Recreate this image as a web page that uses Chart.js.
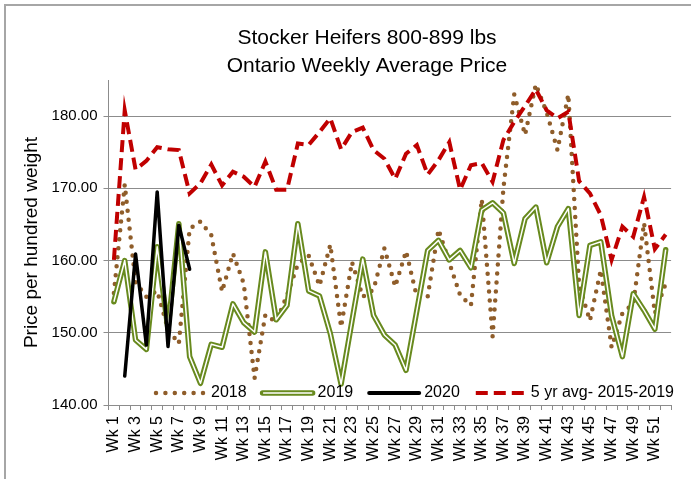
<!DOCTYPE html>
<html>
<head>
<meta charset="utf-8">
<script src="https://cdn.jsdelivr.net/npm/chart.js@4.4.1/dist/chart.umd.min.js"></script>
<style>
  body { margin: 0; background: #fff; }
  #wrap { width: 691px; height: 479px; }
</style>
</head>
<body>
<div id="wrap"><canvas id="heifers" width="691" height="479"></canvas></div>
<script>
// weekly prices, $ per cwt
var weeks = [];
for (var w = 1; w <= 52; w++) weeks.push("Wk " + w);

var price2018 = [155.5, 170.5, 157.0, 155.0, 155.8, 150.5, 148.5, 164.4, 165.4, 163.5,
                 155.7, 161.0, 156.8, 143.7, 152.5, 151.5, 155.2, 159.5, 160.7, 156.5,
                 162.2, 150.8, 159.8, 155.0, 156.0, 161.7, 156.4, 161.3, 155.0, 155.0,
                 164.3, 159.7, 155.2, 153.8, 168.5, 149.5, 170.0, 183.0, 177.4, 184.4,
                 180.5, 175.3, 183.0, 156.5, 151.7, 158.7, 148.0, 152.7, 154.0, 165.2,
                 152.7, 156.8];
var price2019 = [154.3, 160.0, 149.0, 147.7, 161.9, 150.5, 165.1, 146.7, 143.0, 148.4,
                 148.0, 154.0, 151.4, 150.1, 161.2, 151.8, 153.8, 165.1, 155.8, 155.1,
                 149.9, 142.9, 151.6, 160.2, 152.4, 149.7, 148.3, 144.8, 153.1, 161.4,
                 162.8, 160.1, 161.4, 159.0, 167.0, 168.0, 166.6, 159.6, 165.8, 167.4,
                 159.7, 164.7, 167.2, 152.4, 162.1, 162.6, 152.4, 146.7, 155.4, 153.1,
                 150.5, 161.5];
var price2020 = [null, 144.0, 160.9, 148.3, 169.5, 148.1, 164.9, 158.8];
var avg5yr = [160.1, 180.8, 172.6, 173.8, 175.7, 175.4, 175.3, 169.3, 170.7, 173.3,
              170.4, 172.3, 171.6, 170.2, 173.7, 169.8, 169.8, 176.2, 176.0, 177.8,
              179.7, 175.4, 177.8, 178.4, 175.3, 174.1, 171.3, 174.8, 176.0, 171.9,
              173.9, 176.4, 169.8, 173.2, 173.5, 170.9, 176.7, 179.2, 181.4, 183.7,
              180.8, 179.7, 180.6, 171.0, 169.3, 166.3, 160.1, 164.7, 163.3, 168.8,
              161.6, 163.6];
var titleLines = ["Stocker Heifers 800-899 lbs", "Ontario Weekly Average Price"];
var seriesNames = ["2018", "2019", "2020", "5 yr avg- 2015-2019"];

var FONT = "'Liberation Sans', Arial, sans-serif";
var BROWN = "#8f5d2a", GREEN = "#688a1e", RED = "#c00000", GRID = "#8c8c8c";

// outer frame + title
var framePlugin = {
  id: "frame",
  beforeDraw: function(chart) {
    var ctx = chart.ctx;
    ctx.save();
    ctx.strokeStyle = "#a6a6a6";
    ctx.lineWidth = 2;
    ctx.strokeRect(5, 5, 720, 520);
    ctx.restore();
  },
  afterDraw: function(chart) {
    var ctx = chart.ctx;
    ctx.save();
    ctx.fillStyle = "#000";
    ctx.font = "21px " + FONT;
    ctx.textAlign = "center";
    ctx.textBaseline = "middle";
    ctx.fillText(titleLines[0], 367, 38);
    ctx.fillText(titleLines[1], 367, 66);
    ctx.restore();
  }
};

// legend drawn inside the plot, along the bottom
var legendPlugin = {
  id: "innerLegend",
  afterDatasetsDraw: function(chart) {
    var ctx = chart.ctx;
    var y = 393, x = 156;
    ctx.save();
    ctx.font = "16px " + FONT;
    ctx.textBaseline = "middle";
    seriesNames.forEach(function(name, i) {
      ctx.setLineDash([]);
      ctx.lineCap = "butt";
      ctx.beginPath();
      if (i === 0) {
        ctx.strokeStyle = BROWN; ctx.lineWidth = 4.5; ctx.lineCap = "round";
        ctx.setLineDash([0, 9.4]);
        ctx.moveTo(x, y); ctx.lineTo(x + 50, y); ctx.stroke();
      } else if (i === 1) {
        ctx.lineCap = "round";
        ctx.strokeStyle = GREEN; ctx.lineWidth = 5.5;
        ctx.moveTo(x, y); ctx.lineTo(x + 50, y); ctx.stroke();
        ctx.beginPath();
        ctx.strokeStyle = "#fff"; ctx.lineWidth = 1.5;
        ctx.moveTo(x + 1, y); ctx.lineTo(x + 49, y); ctx.stroke();
      } else if (i === 2) {
        ctx.lineCap = "round";
        ctx.strokeStyle = "#000"; ctx.lineWidth = 4;
        ctx.moveTo(x, y); ctx.lineTo(x + 50, y); ctx.stroke();
      } else {
        ctx.strokeStyle = RED; ctx.lineWidth = 4;
        ctx.setLineDash([12, 6]);
        ctx.moveTo(x, y); ctx.lineTo(x + 52, y); ctx.stroke();
      }
      ctx.setLineDash([]);
      ctx.fillStyle = "#000";
      ctx.fillText(name, x + 55, y);
      x += 55 + ctx.measureText(name).width + 16;
    });
    ctx.restore();
  }
};

new Chart(document.getElementById("heifers"), {
  type: "line",
  data: {
    labels: weeks,
    datasets: [
      { label: seriesNames[3], data: avg5yr, borderColor: RED, borderWidth: 4,
        borderDash: [12, 6], order: 1 },
      { label: seriesNames[2], data: price2020, borderColor: "#000", borderWidth: 3.5,
        borderJoinStyle: "round", borderCapStyle: "round", order: 2 },
      { label: "2019 inner", data: price2019, borderColor: "#fff", borderWidth: 1.5,
        borderJoinStyle: "round", order: 3 },
      { label: seriesNames[1], data: price2019, borderColor: GREEN, borderWidth: 5.5,
        borderJoinStyle: "round", borderCapStyle: "round", order: 4 },
      { label: seriesNames[0], data: price2018, borderColor: BROWN, borderWidth: 4.5,
        borderDash: [0, 9], borderCapStyle: "round", order: 5 }
    ]
  },
  options: {
    responsive: false,
    animation: false,
    devicePixelRatio: 1,
    elements: { point: { radius: 0 }, line: { tension: 0, fill: false } },
    layout: { padding: { left: 16, top: 80, right: 11.7, bottom: 0 } },
    plugins: {
      legend: { display: false },
      title: { display: false },
      tooltip: { enabled: false }
    },
    scales: {
      x: {
        offset: true,
        grid: { display: true, drawOnChartArea: false, drawTicks: true, tickLength: 5,
                offset: true, color: GRID },
        border: { display: true, color: GRID, width: 1 },
        ticks: {
          autoSkip: false, minRotation: 90, maxRotation: 90, padding: 6,
          color: "#000", font: { family: FONT, size: 16 },
          callback: function(v, i) { return i % 2 === 0 ? weeks[i] : ""; }
        },
        afterFit: function(scale) { scale.height = 74; }
      },
      y: {
        min: 140, max: 185,
        ticks: {
          stepSize: 10, padding: 6, color: "#000", font: { family: FONT, size: 15 },
          callback: function(v) { return v.toFixed(2); }
        },
        afterBuildTicks: function(scale) {
          scale.ticks = scale.ticks.filter(function(t) { return t.value % 10 === 0; });
        },
        grid: { color: GRID, lineWidth: 1, tickLength: 5 },
        border: { display: true, color: GRID, width: 1 },
        title: { display: true, text: "Price per hundred weight", color: "#000",
                 font: { family: FONT, size: 19 } },
        afterFit: function(scale) { scale.width = 92.5; }
      }
    }
  },
  plugins: [framePlugin, legendPlugin]
});
</script>
</body>
</html>
